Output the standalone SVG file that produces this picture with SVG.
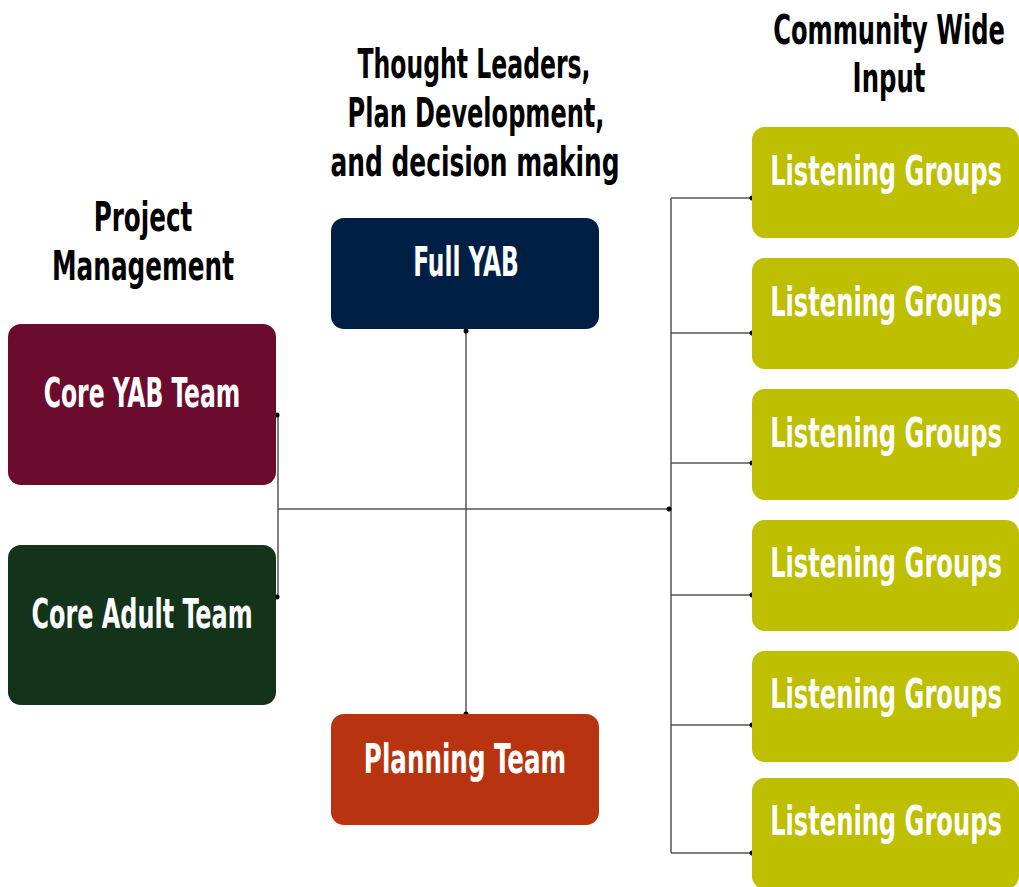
<svg xmlns="http://www.w3.org/2000/svg" width="1019" height="887" viewBox="0 0 1019 887">
<style>
text{font-family:"DejaVu Sans Condensed","DejaVu Sans","Liberation Sans",sans-serif;font-stretch:condensed;font-weight:bold;font-size:40px;text-anchor:middle}
.h{fill:#000}
.w{fill:#fff}
.ln{stroke:#555;stroke-width:1.5;fill:none}
.dot{fill:#000}
.lg{fill:#bdbf00}
</style>
<rect width="1019" height="887" fill="#fff"/>
<g id="headings">
<text class="h" transform="translate(143,231) scale(0.7,1)" textLength="141" lengthAdjust="spacingAndGlyphs">Project</text>
<text class="h" transform="translate(143,280) scale(0.7,1)" textLength="260" lengthAdjust="spacingAndGlyphs">Management</text>
<text class="h" transform="translate(474,78) scale(0.7,1)" textLength="333" lengthAdjust="spacingAndGlyphs">Thought Leaders,</text>
<text class="h" transform="translate(476,127) scale(0.7,1)" textLength="367" lengthAdjust="spacingAndGlyphs">Plan Development,</text>
<text class="h" transform="translate(475,176) scale(0.7,1)" textLength="413" lengthAdjust="spacingAndGlyphs">and decision making</text>
<text class="h" transform="translate(889,44) scale(0.7,1)" textLength="331" lengthAdjust="spacingAndGlyphs">Community Wide</text>
<text class="h" transform="translate(889,92) scale(0.7,1)" textLength="104" lengthAdjust="spacingAndGlyphs">Input</text>
</g>
<g id="connectors">
<path class="ln" d="M278 415V597M278 509H669M466 331V714M671 198V853M671 198H752M671 333H752M671 463H752M671 595H752M671 725H752M671 853H752"/>
<circle class="dot" cx="277" cy="415" r="2.5"/>
<circle class="dot" cx="277" cy="597" r="2.5"/>
<circle class="dot" cx="669" cy="509" r="2.5"/>
<circle class="dot" cx="466" cy="331" r="2.5"/>
<circle class="dot" cx="466" cy="714" r="2.5"/>
<circle class="dot" cx="752" cy="198" r="2.5"/>
<circle class="dot" cx="752" cy="333" r="2.5"/>
<circle class="dot" cx="752" cy="463" r="2.5"/>
<circle class="dot" cx="752" cy="595" r="2.5"/>
<circle class="dot" cx="752" cy="725" r="2.5"/>
<circle class="dot" cx="752" cy="853" r="2.5"/>
</g>
<g id="core-yab">
<rect x="8" y="324" width="268" height="161" rx="13" fill="#6b0c2f"/>
<text class="w" transform="translate(142,407) scale(0.7,1)" textLength="281" lengthAdjust="spacingAndGlyphs">Core YAB Team</text>
</g>
<g id="core-adult">
<rect x="8" y="545" width="268" height="160" rx="13" fill="#13331b"/>
<text class="w" transform="translate(142,628) scale(0.7,1)" textLength="316" lengthAdjust="spacingAndGlyphs">Core Adult Team</text>
</g>
<g id="full-yab">
<rect x="331" y="218" width="268" height="111" rx="13" fill="#001f45"/>
<text class="w" transform="translate(466,276) scale(0.7,1)" textLength="151" lengthAdjust="spacingAndGlyphs">Full YAB</text>
</g>
<g id="planning">
<rect x="331" y="714" width="268" height="111" rx="13" fill="#b8330f"/>
<text class="w" transform="translate(465,773) scale(0.7,1)" textLength="289" lengthAdjust="spacingAndGlyphs">Planning Team</text>
</g>
<g id="lg1"><rect class="lg" x="752" y="127" width="267" height="111" rx="13"/><text class="w" transform="translate(886,185) scale(0.7,1)" textLength="331" lengthAdjust="spacingAndGlyphs">Listening Groups</text></g>
<g id="lg2"><rect class="lg" x="752" y="258" width="267" height="111" rx="13"/><text class="w" transform="translate(886,316) scale(0.7,1)" textLength="331" lengthAdjust="spacingAndGlyphs">Listening Groups</text></g>
<g id="lg3"><rect class="lg" x="752" y="389" width="267" height="111" rx="13"/><text class="w" transform="translate(886,447) scale(0.7,1)" textLength="331" lengthAdjust="spacingAndGlyphs">Listening Groups</text></g>
<g id="lg4"><rect class="lg" x="752" y="520" width="267" height="111" rx="13"/><text class="w" transform="translate(886,577) scale(0.7,1)" textLength="331" lengthAdjust="spacingAndGlyphs">Listening Groups</text></g>
<g id="lg5"><rect class="lg" x="752" y="651" width="267" height="111" rx="13"/><text class="w" transform="translate(886,708) scale(0.7,1)" textLength="331" lengthAdjust="spacingAndGlyphs">Listening Groups</text></g>
<g id="lg6"><rect class="lg" x="752" y="778" width="267" height="111" rx="13"/><text class="w" transform="translate(886,835) scale(0.7,1)" textLength="331" lengthAdjust="spacingAndGlyphs">Listening Groups</text></g>
</svg>
